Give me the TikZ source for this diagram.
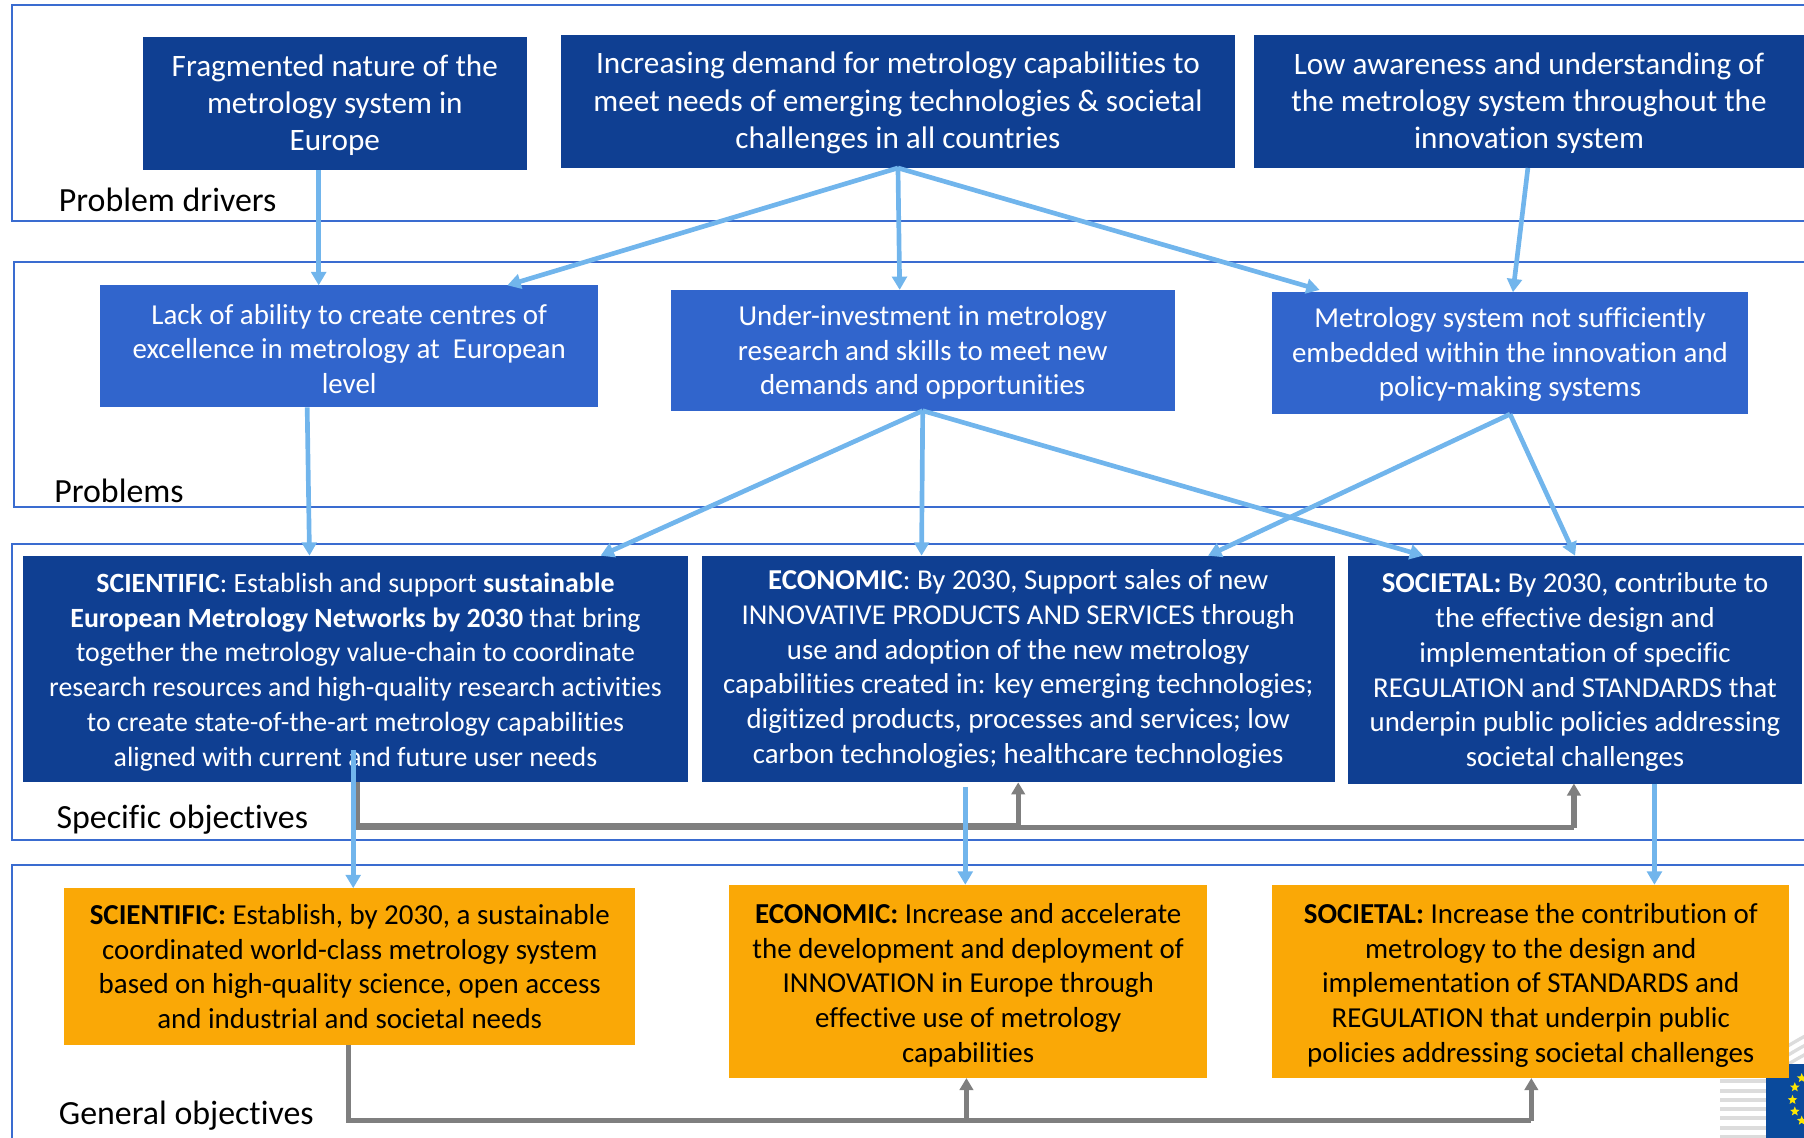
\documentclass[tikz,border=0pt]{standalone}
\usepackage{fontspec}
\setmainfont{Carlito}[Ligatures=NoCommon]
\usetikzlibrary{arrows.meta,shapes.geometric,calc}
\newcommand\U{0.8629pt}
\newcommand\dn[1]{\\[\dimexpr #1+15.5pt-\baselineskip\relax]}
\definecolor{drv}{HTML}{0F3F92}
\definecolor{prb}{HTML}{3165CC}
\definecolor{org}{HTML}{FAA806}
\definecolor{lane}{HTML}{3A6CD0}
\definecolor{lblue}{HTML}{71B5EC}
\definecolor{grayline}{HTML}{7F7F7F}
\definecolor{stripe}{HTML}{DCDCDC}
\definecolor{flag}{HTML}{0A4A9C}
\tikzset{
  x=0.8629pt,y=-0.8629pt,
  span/.style n args={4}{at={({(#1+#3)/2},{(#2+#4)/2})},minimum width={(#3-#1)*\U},minimum height={(#4-#2)*\U}},
  boxbase/.style={inner sep=0pt,outer sep=0pt,align=center,anchor=center},
  drvbox/.style={boxbase,fill=drv,text=white,font=\fontsize{23.4}{27.9}\selectfont},
  prbbox/.style={boxbase,fill=prb,text=white,font=\fontsize{21.7}{26}\selectfont},
  spcbox/.style={boxbase,fill=drv,text=white,font=\fontsize{21.6}{26.05}\selectfont},
  spcboxs/.style={spcbox,font=\fontsize{20.9}{26.05}\selectfont},
  genbox/.style={boxbase,fill=org,text=black,font=\fontsize{21.7}{26}\selectfont},
  lanebox/.style={draw=lane,line width=1.5pt},
  lanelabel/.style={anchor=base west,inner sep=0pt,font=\fontsize{25.4}{30}\selectfont},
  flow/.style={draw=lblue,line width=3.5pt,-{Triangle[length=10pt,width=11pt]}},
  link/.style={draw=grayline,line width=#1},
  link/.default=4pt,
  linkarrow/.style={link,-{Triangle[length=9pt,width=10pt]}},
  eustar/.style={star,star points=5,star point ratio=2.3,fill=yellow!90!orange,minimum size=7.5pt,inner sep=0pt},
}
\begin{document}
\begin{tikzpicture}
\useasboundingbox (0,0) rectangle (1568,989);
\clip (0,0) rectangle (1568,989);
% swimlanes
\draw[lanebox] (1590,4) -- (10,4) -- (10,192) -- (1590,192);
\draw[lanebox] (1590,228) -- (12,228) -- (12,441) -- (1590,441);
\draw[lanebox] (1590,473) -- (10,473) -- (10,730) -- (1590,730);
\draw[lanebox] (1590,752) -- (10,752) -- (10,1000);
% emblem
\foreach \yy in {932,940,...,988} {\draw[stripe,line width=3pt] (1495,\yy) -- (1536,\yy);}
\foreach \yy in {906,914,922} {\draw[stripe,line width=2.5pt] (1535,\yy+12) .. controls (1548,\yy+8) and (1558,\yy) .. (1570,\yy-6);}
\fill[flag] (1535,925) rectangle (1570,992);
\foreach \n/\sx/\sy in {a/1566/937,b/1560/945,c/1558/956,d/1560/966,e/1566/974} {
  \node[eustar] (star\n) at (\sx,\sy) {};
}
% labels
\node[lanelabel] (l1) at (51,184) {Problem drivers};
\node[lanelabel] (l2) at (47,437) {Problems};
\node[lanelabel] (l3) at (49,720) {Specific objectives};
\node[lanelabel] (l4) at (51,977) {General objectives};
% drivers
\node[drvbox,span={124}{32}{458}{148}] (A) {\dn{3.4pt}Fragmented nature of the\\metrology system in\\Europe};
\node[drvbox,span={488}{30}{1073}{146}] (B) {\dn{3.4pt}Increasing demand for metrology capabilities to\\meet needs of emerging technologies \& societal\\challenges in all countries};
\node[drvbox,span={1090}{30}{1568}{146}] (C) {\dn{3.4pt}Low awareness and understanding of\\the metrology system throughout the\\innovation system};
% problems
\node[prbbox,span={87}{248}{520}{354}] (P1) {\dn{3.4pt}Lack of ability to create centres of\\excellence in metrology at\ \ European\\level};
\node[prbbox,span={583}{252}{1021}{357}] (P2) {\dn{2.6pt}Under-investment in metrology\\research and skills to meet new\\demands and opportunities};
\node[prbbox,span={1106}{254}{1519}{360}] (P3) {\dn{1.7pt}Metrology system not sufficiently\\embedded within the innovation and\\policy-making systems};
% specific
\node[spcboxs,span={20}{483}{598}{680}] (S1) {\dn{3.4pt}\textbf{SCIENTIFIC}: Establish and support \textbf{sustainable}\\\textbf{European Metrology Networks by 2030} that bring\\together the metrology value-chain to coordinate\\research resources and high-quality research activities\\to create state-of-the-art metrology capabilities\\aligned with current and future user needs};
\node[spcbox,span={610}{483}{1160}{680}] (S2) {\textbf{ECONOMIC}: By 2030, Support sales of new\\INNOVATIVE PRODUCTS AND SERVICES through\\use and adoption of the new metrology\\capabilities created in: key emerging technologies;\\digitized products, processes and services; low\\carbon technologies; healthcare technologies};
\node[spcbox,span={1172}{483}{1566}{681}] (S3) {\dn{3.4pt}\textbf{SOCIETAL:} By 2030, \textbf{c}ontribute to\\the effective design and\\implementation of specific\\REGULATION and STANDARDS that\\underpin public policies addressing\\societal challenges};
% general
\node[genbox,span={56}{772}{552}{908}] (G1) {\textbf{SCIENTIFIC:} Establish, by 2030, a sustainable\\coordinated world-class metrology system\\based on high-quality science, open access\\and industrial and societal needs};
\node[genbox,span={634}{769}{1049}{937}] (G2) {\dn{5.2pt}\textbf{ECONOMIC:} Increase and accelerate\\the development and deployment of\\INNOVATION in Europe through\\effective use of metrology\\capabilities};
\node[genbox,span={1106}{769}{1555}{937}] (G3) {\dn{5.2pt}\textbf{SOCIETAL:} Increase the contribution of\\metrology to the design and\\implementation of STANDARDS and\\REGULATION that underpin public\\policies addressing societal challenges};
% grey links
\draw[link=5.2pt] (310,0 |- S1.south) -- (310,718) -- (885,718);
\draw[linkarrow] (885,718) -- (885,0 |- S2.south);
\draw[link] (885,719.5) -- (1368,719.5);
\draw[linkarrow] (1368,719.5) -- (1368,0 |- S3.south);
\draw[link] (303,0 |- G1.south) -- (303,974) -- (840,974);
\draw[linkarrow] (840,974) -- (840,0 |- G2.south);
\draw[link] (840,974) -- (1331,974);
\draw[linkarrow] (1331,974) -- (1331,0 |- G3.south);
% blue flows
\draw[flow] (277,0 |- A.south) -- (277,0 |- P1.north);
\draw[flow] (B.south) -- (441,0 |- P1.north);
\draw[flow] (B.south) -- (782,0 |- P2.north);
\draw[flow] (B.south) -- (1147,0 |- P2.north);
\draw[flow] (1328,0 |- C.south) -- (1315,0 |- P3.north);
\draw[flow] (267,0 |- P1.south) -- (269,0 |- S1.north);
\draw[flow] (P2.south) -- (522,0 |- S1.north);
\draw[flow] (P2.south) -- (801,0 |- S2.north);
\draw[flow] (P2.south) -- (1237,0 |- S3.north);
\draw[flow] (P3.south) -- (1050,0 |- S2.north);
\draw[flow] (P3.south) -- (S3.north);
\draw[flow] (307,652) -- (307,0 |- G1.north);
\draw[flow] (839,684) -- (839,0 |- G2.north);
\draw[flow] (1438,0 |- S3.south) -- (1438,0 |- G3.north);
\end{tikzpicture}
\end{document}
